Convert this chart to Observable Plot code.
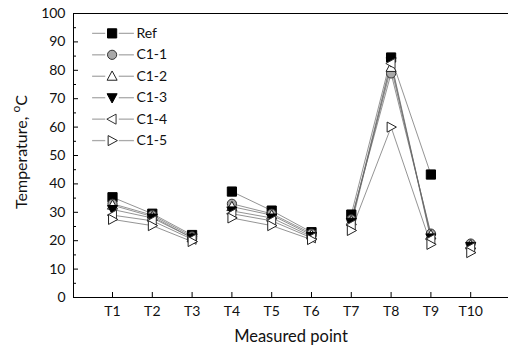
<!DOCTYPE html>
<html>
<head>
<meta charset="utf-8">
<script src="https://cdn.jsdelivr.net/npm/d3@7"></script>
<script src="https://cdn.jsdelivr.net/npm/@observablehq/plot@0.6"></script>
<style>
  html, body { margin: 0; padding: 0; background: #fff; }
  #chart svg { display: block; }
</style>
</head>
<body>
<div id="chart"></div>
<script>
// ---- data ----
const points = ["T1","T2","T3","T4","T5","T6","T7","T8","T9","T10"];
const segments = [1,1,1,2,2,2,3,3,3,4];
const seriesNames = ["Ref","C1-1","C1-2","C1-3","C1-4","C1-5"];
const ref = [35.3,29.5,22.0,37.3,30.6,23.0,29.2,84.5,43.3,null];
const c11 = [33.0,29.0,21.5,33.0,29.5,22.5,27.5,78.9,22.5,19.0];
const c12 = [32.5,28.5,21.0,32.0,29.0,22.0,27.0,81.0,22.0,18.5];
const c13 = [31.0,28.0,21.0,30.5,28.0,21.5,26.5,83.0,21.0,18.0];
const c14 = [29.0,27.0,20.5,29.5,27.0,21.0,25.5,82.4,20.5,17.5];
const c15 = [27.5,25.3,19.7,28.0,25.3,20.4,23.6,60.0,18.7,15.8];
const yTicks = [0,10,20,30,40,50,60,70,80,90,100];
const yMinor = [5,15,25,35,45,55,65,75,85,95];

// ---- custom symbols ----
const rOf = s => Math.sqrt(s / Math.PI);
const symSquare = {draw(c, s){ const h = rOf(s); c.rect(-h, -h, 2*h, 2*h); }};
const symCircle = {draw(c, s){ const h = rOf(s); c.moveTo(h, 0); c.arc(0, 0, h, 0, 2*Math.PI); }};
const symUp = {draw(c, s){ const h = rOf(s)*1.15; c.moveTo(0,-h); c.lineTo(h*0.95,h*0.75); c.lineTo(-h*0.95,h*0.75); c.closePath(); }};
const symDown = {draw(c, s){ const h = rOf(s)*1.15; c.moveTo(0,h); c.lineTo(h*0.95,-h*0.75); c.lineTo(-h*0.95,-h*0.75); c.closePath(); }};
const symLeft = {draw(c, s){ const h = rOf(s)*1.15; c.moveTo(-h,0); c.lineTo(h*0.75,-h*0.95); c.lineTo(h*0.75,h*0.95); c.closePath(); }};
const symRight = {draw(c, s){ const h = rOf(s)*1.15; c.moveTo(h,0); c.lineTo(-h*0.75,-h*0.95); c.lineTo(-h*0.75,h*0.95); c.closePath(); }};

const styles = [
  {sym: symSquare, fill: "#000", stroke: "#000"},
  {sym: symCircle, fill: "#a8a8a8", stroke: "#333"},
  {sym: symUp, fill: "#fff", stroke: "#222"},
  {sym: symDown, fill: "#000", stroke: "#000"},
  {sym: symLeft, fill: "#fff", stroke: "#333"},
  {sym: symRight, fill: "#fff", stroke: "#222"}
];
const values = [ref, c11, c12, c13, c14, c15];

const rows = [];
seriesNames.forEach((name, si) => {
  points.forEach((p, i) => {
    if (values[si][i] != null) rows.push({series: name, si, x: i + 1, point: p, seg: segments[i], y: values[si][i]});
  });
});

const legend = seriesNames.map((name, i) => ({name, i, y: 93 - i * 7.55}));

const marks = [];
// lines (per series, per segment)
marks.push(Plot.line(rows, {x: "x", y: "y", z: d => d.series + "_" + d.seg, stroke: "#666", strokeWidth: 0.7}));
// dots
seriesNames.forEach((name, si) => {
  const st = styles[si];
  marks.push(Plot.dot(rows.filter(d => d.si === si), {x: "x", y: "y", symbol: st.sym, r: 4.6, fill: st.fill, stroke: st.stroke, strokeWidth: 1}));
});
// legend
marks.push(Plot.ruleY(legend, {y: "y", x1: 0.5, x2: 0.83, stroke: "#aaa", strokeWidth: 1.3}));
marks.push(Plot.ruleY(legend, {y: "y", x1: 1.17, x2: 1.55, stroke: "#aaa", strokeWidth: 1.3}));
seriesNames.forEach((name, si) => {
  const st = styles[si];
  marks.push(Plot.dot(legend.filter(d => d.i === si), {x: 0.99, y: "y", symbol: st.sym, r: 4.6, fill: st.fill, stroke: st.stroke, strokeWidth: 1}));
});
marks.push(Plot.text(legend, {x: 1.6, y: "y", text: "name", textAnchor: "start", fontSize: 14, fill: "#111"}));

// axes / frame
marks.push(Plot.ruleX([0.02], {stroke: "#000", strokeWidth: 1}));
marks.push(Plot.ruleY([0, 100], {stroke: "#000", strokeWidth: 1}));
marks.push(Plot.axisY({ticks: yTicks, tickSize: 0, tickPadding: 8, fontSize: 14, label: null, fill: "#111"}));
marks.push(Plot.axisY({ticks: yTicks, tickSize: -5, text: null, label: null, stroke: "#000"}));
marks.push(Plot.axisY({ticks: yMinor, tickSize: -3, text: null, label: null, stroke: "#000"}));
marks.push(Plot.axisX({ticks: d3.range(1, 11), tickSize: 0, tickPadding: 9, fontSize: 14, label: null, tickFormat: d => points[d - 1], fill: "#111"}));
marks.push(Plot.axisX({ticks: d3.range(1, 11), tickSize: -5, text: null, label: null, stroke: "#000"}));

const chart = Plot.plot({
  width: 508,
  height: 347,
  marginLeft: 73,
  marginRight: 0,
  marginTop: 13,
  marginBottom: 50,
  style: {fontFamily: "Lato, 'Noto Sans', sans-serif", background: "#fff", color: "#111"},
  x: {type: "linear", domain: [0.02, 10.95]},
  y: {domain: [0, 100]},
  marks
});

const svg = d3.select(chart);
// y title with superscript degree
const t = svg.append("text")
  .attr("transform", "translate(27,152) rotate(-90)")
  .attr("text-anchor", "middle")
  .attr("font-size", 16)
  .attr("fill", "#111");
t.append("tspan").text("Temperature, ");
t.append("tspan").attr("dy", -7).attr("font-size", 12).text("o");
t.append("tspan").attr("dy", 7).text("C");
// x title
svg.append("text")
  .attr("x", 291).attr("y", 342)
  .attr("text-anchor", "middle")
  .attr("font-size", 16.5)
  .attr("fill", "#111")
  .text("Measured point");

document.getElementById("chart").appendChild(chart);
</script>
</body>
</html>
